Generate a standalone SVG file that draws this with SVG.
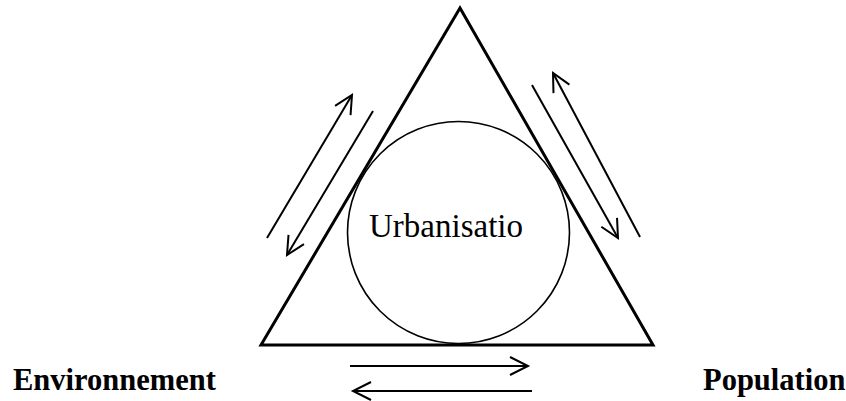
<svg xmlns="http://www.w3.org/2000/svg" width="846" height="401" viewBox="0 0 846 401">
<defs>
<style>
.tri{fill:none;stroke:#000;stroke-width:3;stroke-linejoin:miter}
.circ{fill:none;stroke:#000;stroke-width:1.6}
.arr{fill:none;stroke:#000;stroke-width:2;marker-end:url(#head)}
.lbl{font-family:"Liberation Serif","Times New Roman",serif;fill:#000}
.bold{font-weight:bold;font-size:30.5px}
</style>
<marker id="head" markerUnits="userSpaceOnUse" markerWidth="24" markerHeight="24" refX="19" refY="10" orient="auto" overflow="visible">
<path d="M1,1 L19,10 L1,19" fill="none" stroke="#000" stroke-width="2"/>
</marker>
</defs>
<g id="triangle">
<path class="tri" d="M460,8 L261,345 L653,345 Z"/>
</g>
<g id="urbanisation">
<circle class="circ" cx="458.5" cy="232.5" r="111"/>
<text class="lbl" x="369" y="237" font-size="33">Urbanisatio</text>
</g>
<g id="environnement">
<text class="lbl bold" x="13" y="390">Environnement</text>
</g>
<g id="population">
<text class="lbl bold" x="703" y="390">Population</text>
</g>
<g id="connectors">
<line class="arr" x1="267" y1="238" x2="352" y2="95"/>
<line class="arr" x1="373" y1="111" x2="287" y2="255"/>
<line class="arr" x1="640" y1="237" x2="553" y2="73"/>
<line class="arr" x1="532" y1="85" x2="618" y2="238"/>
<line class="arr" x1="350" y1="366" x2="528" y2="366"/>
<line class="arr" x1="532" y1="391" x2="353" y2="391"/>
</g>
</svg>
